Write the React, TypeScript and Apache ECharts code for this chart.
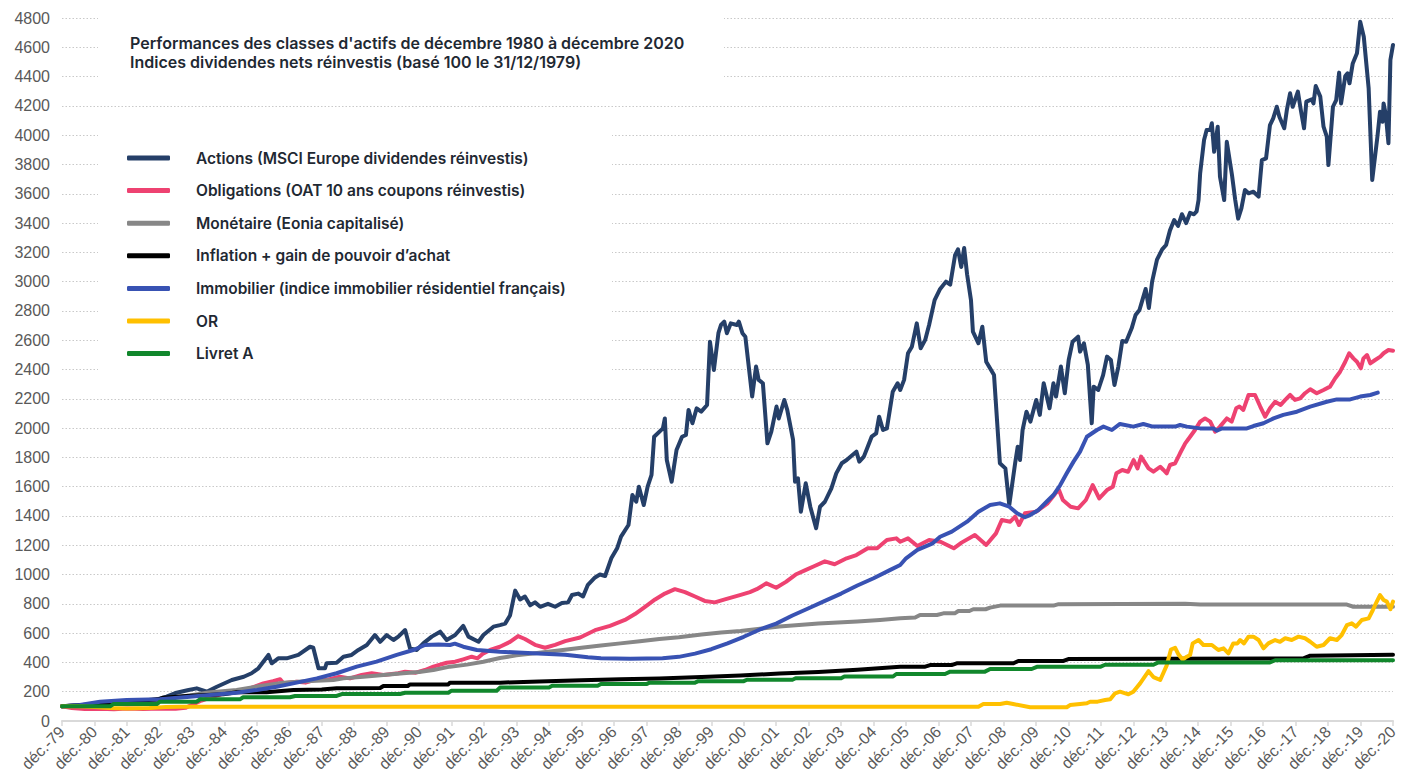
import React, { useEffect, useRef } from 'react';
import * as echarts from 'echarts';

const titleText =
  "Performances des classes d'actifs de décembre 1980 à décembre 2020\nIndices dividendes nets réinvestis (basé 100 le 31/12/1979)";

const xLabels = [
  'déc.-79', 'déc.-80', 'déc.-81', 'déc.-82', 'déc.-83', 'déc.-84', 'déc.-85', 'déc.-86', 'déc.-87', 'déc.-88',
  'déc.-89', 'déc.-90', 'déc.-91', 'déc.-92', 'déc.-93', 'déc.-94', 'déc.-95', 'déc.-96', 'déc.-97', 'déc.-98',
  'déc.-99', 'déc.-00', 'déc.-01', 'déc.-02', 'déc.-03', 'déc.-04', 'déc.-05', 'déc.-06', 'déc.-07', 'déc.-08',
  'déc.-09', 'déc.-10', 'déc.-11', 'déc.-12', 'déc.-13', 'déc.-14', 'déc.-15', 'déc.-16', 'déc.-17', 'déc.-18',
  'déc.-19', 'déc.-20',
];

const seriesNames = [
  'Actions (MSCI Europe dividendes réinvestis)',
  'Obligations (OAT 10 ans coupons réinvestis)',
  'Monétaire (Eonia capitalisé)',
  'Inflation + gain de pouvoir d’achat',
  'Immobilier (indice immobilier résidentiel français)',
  'OR',
  'Livret A',
];

const seriesColors = ['#253f68', '#ee4271', '#878787', '#000000', '#3852b3', '#ffc000', '#11872c'];

// [years since déc.-79, index value]
const actions = [
  [0, 100], [0.5, 106], [1, 112], [1.5, 116], [2, 122], [2.5, 130], [2.9, 145], [3.22, 166], [3.53, 193], [3.9, 212],
  [4.15, 223], [4.46, 200], [4.77, 234], [5.23, 280], [5.6, 302], [5.84, 326], [6.05, 360], [6.36, 451], [6.46, 394],
  [6.66, 428], [6.92, 428], [7.28, 451], [7.64, 507], [7.74, 500], [7.9, 360], [8.1, 360], [8.15, 394], [8.46, 398],
  [8.67, 439], [8.92, 451], [9.13, 485], [9.39, 519], [9.64, 587], [9.8, 541], [10.0, 587], [10.21, 553], [10.36, 576],
  [10.57, 621], [10.72, 496], [10.93, 485], [11.13, 530], [11.39, 576], [11.65, 610], [11.85, 553], [12.11, 587],
  [12.36, 649], [12.52, 576], [12.83, 541], [12.98, 587], [13.29, 644], [13.49, 655], [13.65, 665], [13.8, 720],
  [13.96, 890], [14.11, 830], [14.26, 850], [14.42, 790], [14.57, 810], [14.73, 780], [14.97, 800], [15.19, 780],
  [15.4, 805], [15.59, 810], [15.71, 860], [15.9, 870], [16.05, 850], [16.2, 930], [16.42, 980], [16.57, 1000],
  [16.73, 990], [16.92, 1111], [17.1, 1179], [17.22, 1259], [17.45, 1338], [17.57, 1543], [17.69, 1497], [17.77, 1600],
  [17.92, 1475], [18.04, 1600], [18.16, 1680], [18.24, 1941], [18.51, 1998], [18.57, 2066], [18.63, 1782], [18.78, 1634],
  [18.93, 1850], [19.1, 1941], [19.22, 1953], [19.3, 2124], [19.42, 2033], [19.55, 2135], [19.69, 2112], [19.87, 2158],
  [19.96, 2590], [20.08, 2397], [20.22, 2648], [20.3, 2704], [20.4, 2727], [20.48, 2648], [20.6, 2715], [20.79, 2704],
  [20.85, 2727], [20.96, 2648], [21.05, 2624], [21.26, 2215], [21.38, 2420], [21.46, 2329], [21.59, 2306], [21.73, 1896],
  [21.85, 1976], [22.01, 2147], [22.08, 2066], [22.25, 2192], [22.34, 2124], [22.52, 1919], [22.58, 1634], [22.67, 1657],
  [22.76, 1429], [22.91, 1623], [23.05, 1463], [23.23, 1316], [23.35, 1463], [23.5, 1497], [23.7, 1589], [23.85, 1691],
  [24.02, 1760], [24.17, 1782], [24.35, 1816], [24.47, 1839], [24.56, 1771], [24.7, 1805], [24.82, 1873], [24.94, 1941],
  [25.08, 1964], [25.17, 2078], [25.29, 1987], [25.41, 1998], [25.59, 2248], [25.74, 2306], [25.82, 2260], [25.94, 2329],
  [26.06, 2511], [26.18, 2556], [26.33, 2715], [26.45, 2545], [26.59, 2602], [26.71, 2704], [26.88, 2874], [27.05, 2950],
  [27.23, 3000], [27.36, 2980], [27.51, 3180], [27.6, 3220], [27.7, 3100], [27.79, 3230], [27.88, 3050], [28.0, 2874],
  [28.06, 2658], [28.23, 2579], [28.35, 2692], [28.47, 2453], [28.71, 2362], [28.89, 1760], [29.06, 1725], [29.18, 1475],
  [29.36, 1760], [29.44, 1873], [29.51, 1782], [29.59, 1987], [29.71, 2112], [29.83, 2044], [30.01, 2192], [30.12, 2090],
  [30.24, 2306], [30.42, 2135], [30.54, 2306], [30.62, 2215], [30.77, 2420], [30.89, 2238], [31.01, 2465], [31.13, 2590],
  [31.3, 2624], [31.36, 2522], [31.48, 2579], [31.6, 2431], [31.72, 2033], [31.78, 2283], [31.92, 2260], [32.07, 2362],
  [32.19, 2488], [32.31, 2465], [32.42, 2294], [32.54, 2420], [32.66, 2595], [32.78, 2590], [32.95, 2681], [33.07, 2772],
  [33.19, 2806], [33.28, 2874], [33.38, 2950], [33.48, 2820], [33.58, 3000], [33.73, 3150], [33.89, 3220], [34.01, 3250],
  [34.13, 3350], [34.26, 3420], [34.38, 3380], [34.5, 3460], [34.63, 3400], [34.75, 3470], [34.87, 3460], [34.95, 3480],
  [35.01, 3557], [35.06, 3740], [35.18, 3967], [35.26, 4035], [35.37, 4035], [35.42, 4081], [35.49, 3887], [35.6, 4058],
  [35.67, 3716], [35.8, 3557], [35.88, 3955], [36.04, 3728], [36.14, 3557], [36.23, 3430], [36.33, 3500], [36.44, 3626],
  [36.55, 3603], [36.7, 3614], [36.86, 3580], [36.96, 3830], [37.09, 3842], [37.21, 4069], [37.31, 4115], [37.42, 4194],
  [37.5, 4126], [37.65, 4047], [37.73, 4172], [37.83, 4286], [37.91, 4194], [38.07, 4297], [38.16, 4172], [38.26, 4047],
  [38.33, 4229], [38.5, 4245], [38.55, 4217], [38.62, 4336], [38.76, 4263], [38.86, 4058], [38.96, 3990], [39.01, 3796],
  [39.15, 4194], [39.25, 4240], [39.34, 4427], [39.4, 4217], [39.53, 4404], [39.6, 4422], [39.66, 4354], [39.76, 4490],
  [39.89, 4559], [39.99, 4775], [40.1, 4672], [40.25, 4320], [40.36, 3694], [40.52, 3990], [40.6, 4160], [40.68, 4092],
  [40.71, 4217], [40.78, 4138], [40.86, 3945], [40.92, 4513], [41.0, 4616],
];

const obligations = [
  [0, 100], [0.3, 88], [0.7, 82], [1.2, 84], [1.6, 80], [2.0, 85], [2.5, 82], [3.0, 86], [3.5, 83], [3.8, 90],
  [4.3, 140], [5.0, 190], [5.4, 205], [5.79, 223], [6.2, 257], [6.5, 272], [6.72, 285], [6.82, 257], [7.23, 268],
  [7.5, 262], [7.85, 285], [8.15, 280], [8.56, 302], [8.87, 291], [9.23, 314], [9.54, 326], [9.9, 314], [10.36, 326],
  [10.57, 337], [10.9, 330], [11.18, 348], [11.44, 371], [11.85, 398], [12.11, 405], [12.36, 421], [12.62, 439],
  [12.8, 428], [12.98, 462], [13.19, 485], [13.49, 507], [13.8, 540], [14.05, 580], [14.26, 560], [14.57, 520],
  [14.88, 500], [15.19, 520], [15.5, 545], [15.96, 570], [16.42, 620], [16.88, 650], [17.34, 690], [17.65, 730],
  [17.96, 780], [18.27, 830], [18.57, 870], [18.88, 900], [19.19, 880], [19.5, 850], [19.8, 820], [20.11, 810],
  [20.42, 830], [20.88, 860], [21.19, 880], [21.4, 900], [21.7, 940], [22.0, 910], [22.3, 950], [22.6, 1000],
  [22.9, 1030], [23.2, 1060], [23.5, 1090], [23.8, 1070], [24.17, 1111], [24.47, 1133], [24.82, 1179], [25.11, 1179],
  [25.41, 1236], [25.7, 1247], [25.82, 1224], [26.06, 1247], [26.35, 1195], [26.71, 1236], [27.06, 1224], [27.47, 1179],
  [27.71, 1218], [28.12, 1270], [28.47, 1202], [28.77, 1281], [28.95, 1372], [29.21, 1361], [29.36, 1395], [29.48, 1338],
  [29.66, 1418], [30.01, 1429], [30.36, 1486], [30.6, 1554], [30.71, 1577], [30.83, 1509], [31.07, 1463], [31.3, 1452],
  [31.54, 1509], [31.75, 1611], [31.95, 1520], [32.19, 1577], [32.37, 1600], [32.48, 1691], [32.66, 1714], [32.84, 1702],
  [33.01, 1782], [33.13, 1725], [33.24, 1805], [33.47, 1725], [33.62, 1702], [33.83, 1736], [33.93, 1714], [34.03, 1691],
  [34.13, 1748], [34.29, 1760], [34.44, 1828], [34.6, 1896], [34.75, 1941], [34.9, 1987], [35.06, 2044], [35.21, 2066],
  [35.37, 2044], [35.52, 1976], [35.67, 2010], [35.88, 2066], [36.03, 2044], [36.17, 2135], [36.27, 2147], [36.39, 2124],
  [36.55, 2226], [36.75, 2226], [36.91, 2147], [37.06, 2078], [37.21, 2135], [37.37, 2180], [37.54, 2158], [37.68, 2192],
  [37.83, 2226], [37.98, 2192], [38.14, 2203], [38.29, 2238], [38.45, 2265], [38.65, 2238], [38.86, 2260], [39.06, 2283],
  [39.22, 2340], [39.37, 2385], [39.53, 2453], [39.65, 2511], [39.78, 2476], [39.89, 2453], [40.01, 2408], [40.09, 2476],
  [40.2, 2499], [40.3, 2442], [40.45, 2465], [40.61, 2488], [40.71, 2511], [40.86, 2533], [41.0, 2528],
];

const monetaire = [
  [0, 100], [1, 112], [2, 127], [3, 148], [3.94, 175], [4.5, 195], [5.38, 212], [6.0, 235], [6.82, 262], [7.5, 272],
  [8.36, 280], [8.67, 291], [9.28, 302], [9.9, 314], [10.51, 326], [11.0, 335], [11.44, 348], [11.95, 371], [12.47, 385],
  [12.98, 405], [13.49, 430], [14.0, 448], [14.7, 466], [15.3, 482], [16.0, 500], [16.6, 515], [17.2, 530], [17.8, 545],
  [18.4, 560], [19.0, 572], [19.7, 590], [20.3, 605], [20.9, 615], [21.5, 630], [22.1, 645], [22.7, 655], [23.3, 665],
  [23.9, 672], [24.5, 680], [25.2, 690], [25.82, 701], [26.28, 706], [26.43, 724], [26.95, 724], [27.15, 735],
  [27.5, 735], [27.61, 751], [27.95, 751], [28.07, 763], [28.45, 763], [28.59, 774], [28.9, 788], [30.54, 788],
  [30.7, 798], [34.6, 800], [35.06, 795], [39.58, 795], [39.78, 780], [41.0, 780],
];

const inflation = [
  [0, 100], [0.5, 107], [1, 115], [1.5, 122], [2, 130], [2.5, 140], [3.0, 150], [3.12, 159], [3.94, 173], [4.97, 182],
  [5.38, 196], [6.3, 196], [7.13, 212], [8.0, 215], [8.46, 223], [9.8, 225], [9.9, 239], [10.65, 239], [10.72, 250],
  [11.9, 250], [11.95, 262], [13.5, 262], [14.7, 270], [16.0, 278], [17.2, 285], [18.4, 290], [19.7, 300], [20.9, 310],
  [22.1, 325], [23.3, 335], [24.5, 350], [25.82, 371], [26.59, 371], [26.74, 382], [27.4, 382], [27.56, 394],
  [29.31, 394], [29.46, 410], [30.85, 410], [31.0, 423], [38.24, 428], [38.45, 446], [41.0, 453],
];

const immobilier = [
  [0, 100], [0.55, 109], [1.17, 132], [1.99, 143], [3.02, 148], [3.94, 166], [4.56, 178], [5.38, 193], [6.0, 212],
  [6.61, 234], [7.23, 262], [7.85, 291], [8.46, 326], [9.08, 371], [9.69, 405], [10.31, 451], [10.82, 485],
  [11.18, 519], [11.6, 522], [11.95, 519], [12.1, 528], [12.36, 507], [12.78, 485], [13.49, 473], [14.5, 462],
  [15.5, 452], [16.2, 435], [16.6, 428], [17.5, 425], [18.5, 428], [19.0, 438], [19.5, 460], [20.0, 490], [20.5, 530],
  [21.0, 575], [21.5, 625], [22.0, 665], [22.5, 720], [23.0, 770], [23.5, 820], [24.0, 870], [24.5, 925], [25.0, 975],
  [25.5, 1030], [25.82, 1065], [26.0, 1111], [26.35, 1168], [26.82, 1213], [27.05, 1258], [27.41, 1293], [27.88, 1361],
  [28.23, 1429], [28.59, 1475], [28.89, 1486], [29.18, 1463], [29.42, 1418], [29.66, 1391], [29.82, 1406], [30.08, 1441],
  [30.33, 1497], [30.54, 1543], [30.75, 1611], [30.95, 1691], [31.16, 1771], [31.36, 1839], [31.57, 1941], [31.88, 1987],
  [32.08, 2010], [32.34, 1987], [32.59, 2028], [33.0, 2010], [33.31, 2028], [33.6, 2010], [34.29, 2010], [34.44, 2021],
  [34.65, 2010], [35.06, 1998], [35.47, 1998], [35.57, 1982], [35.73, 1998], [36.5, 1998], [36.7, 2014], [37.01, 2033],
  [37.32, 2066], [37.62, 2090], [38.04, 2112], [38.45, 2147], [38.96, 2180], [39.27, 2196], [39.68, 2196], [39.99, 2215],
  [40.3, 2226], [40.53, 2242],
];

const or = [
  [0, 100], [0.5, 100], [1.0, 95], [1.48, 88], [2.0, 85], [2.7, 88], [3.2, 95], [3.6, 98], [28.23, 98], [28.38, 116],
  [28.9, 116], [29.1, 125], [29.3, 116], [29.82, 94], [30.95, 94], [31.05, 109], [31.36, 116], [31.57, 121], [31.67, 132],
  [31.9, 132], [32.13, 143], [32.29, 148], [32.44, 189], [32.59, 200], [32.85, 182], [33.0, 200], [33.21, 257],
  [33.47, 340], [33.62, 300], [33.83, 280], [34.03, 380], [34.16, 488], [34.29, 500], [34.39, 455], [34.52, 420],
  [34.65, 439], [34.75, 451], [34.83, 530], [35.01, 553], [35.16, 519], [35.42, 519], [35.62, 485], [35.78, 496],
  [35.93, 462], [36.08, 530], [36.21, 530], [36.29, 553], [36.41, 530], [36.55, 576], [36.7, 576], [36.86, 553],
  [37.01, 496], [37.16, 530], [37.37, 553], [37.52, 541], [37.68, 565], [37.88, 553], [38.09, 576], [38.29, 565],
  [38.45, 541], [38.65, 507], [38.86, 519], [39.06, 565], [39.27, 553], [39.42, 587], [39.58, 655], [39.73, 667],
  [39.86, 644], [40.04, 690], [40.25, 701], [40.38, 758], [40.5, 815], [40.6, 860], [40.71, 826], [40.81, 815],
  [40.92, 763], [41.0, 815],
];

const livretA = [
  [0, 100], [1.48, 100], [1.58, 116], [2.92, 116], [3.02, 132], [4.15, 132], [4.25, 148], [5.48, 148], [5.58, 162],
  [7.02, 162], [7.18, 171], [8.46, 171], [8.62, 184], [10.41, 184], [10.57, 193], [11.9, 193], [12.0, 207], [13.39, 207],
  [13.49, 228], [15.0, 228], [15.1, 240], [16.5, 240], [16.6, 252], [18.0, 252], [18.1, 262], [19.5, 262], [19.6, 272],
  [21.0, 272], [21.1, 282], [22.5, 282], [22.6, 292], [24.0, 292], [24.1, 304], [25.6, 304], [25.7, 321], [27.2, 321],
  [27.36, 337], [28.43, 337], [28.59, 355], [29.87, 355], [30.03, 370], [31.98, 370], [32.13, 384], [33.62, 384],
  [33.77, 400], [37.21, 400], [37.37, 415], [41.0, 415],
];

const seriesData = [actions, obligations, monetaire, inflation, immobilier, or, livretA];

const uiFont = 'Inter, "Noto Sans", sans-serif';
const axisFont = '"Liberation Sans", Arial, sans-serif';

export default function App() {
  const ref = useRef<HTMLDivElement>(null);

  useEffect(() => {
    if (!ref.current) return;
    const chart = echarts.init(ref.current, undefined, { renderer: 'svg' });
    chart.setOption({
      animation: false,
      backgroundColor: '#ffffff',
      color: seriesColors,
      title: {
        text: titleText,
        left: 130,
        top: 33,
        padding: 0,
        textStyle: {
          fontFamily: uiFont,
          fontWeight: 600,
          fontSize: 16,
          lineHeight: 19,
          color: '#1f2933',
        },
      },
      legend: {
        orient: 'vertical',
        left: 127,
        top: 148,
        padding: 0,
        itemWidth: 43,
        itemHeight: 5,
        itemGap: 12.6,
        icon: 'roundRect',
        data: seriesNames,
        textStyle: {
          fontFamily: uiFont,
          fontWeight: 600,
          fontSize: 15.5,
          lineHeight: 20,
          color: '#1f2933',
          padding: [0, 0, 0, 21],
        },
      },
      graphic: [
        { type: 'rect', z: 1, shape: { x: 98, y: 0, width: 626, height: 92 }, style: { fill: '#ffffff' } },
        { type: 'rect', z: 1, shape: { x: 98, y: 118, width: 514, height: 268 }, style: { fill: '#ffffff' } },
      ],
      grid: { left: 62, right: 13, top: 18, bottom: 60, containLabel: false },
      xAxis: {
        type: 'value',
        min: 0,
        max: 41,
        interval: 1,
        axisLine: { show: true, lineStyle: { color: '#d9d9d9', width: 2 } },
        axisTick: { show: true, length: 5, lineStyle: { color: '#d9d9d9', width: 1.5 } },
        splitLine: { show: false },
        axisLabel: {
          rotate: 45,
          margin: 8,
          fontFamily: axisFont,
          fontSize: 16,
          color: '#595959',
          formatter: (v: number) => xLabels[Math.round(v)] ?? '',
        },
      },
      yAxis: {
        type: 'value',
        min: 0,
        max: 4800,
        interval: 200,
        axisLine: { show: false },
        axisTick: { show: false },
        splitLine: { show: true, lineStyle: { color: '#c9c9c9', width: 1, type: [1.5, 2] } },
        axisLabel: {
          margin: 12,
          fontFamily: axisFont,
          fontSize: 16,
          color: '#595959',
          formatter: (v: number) => String(v),
        },
      },
      series: seriesNames.map((name, i) => ({
        name,
        type: 'line',
        data: seriesData[i],
        showSymbol: false,
        symbol: 'none',
        smooth: false,
        itemStyle: { color: seriesColors[i] },
        lineStyle: { color: seriesColors[i], width: 4, cap: 'round', join: 'round' },
        z: 2 + i * 0.01,
      })),
    });
    return () => chart.dispose();
  }, []);

  return (
    <div
      ref={ref}
      style={{ position: 'fixed', left: 0, top: 0, width: 1406, height: 781, background: '#fff' }}
    />
  );
}
